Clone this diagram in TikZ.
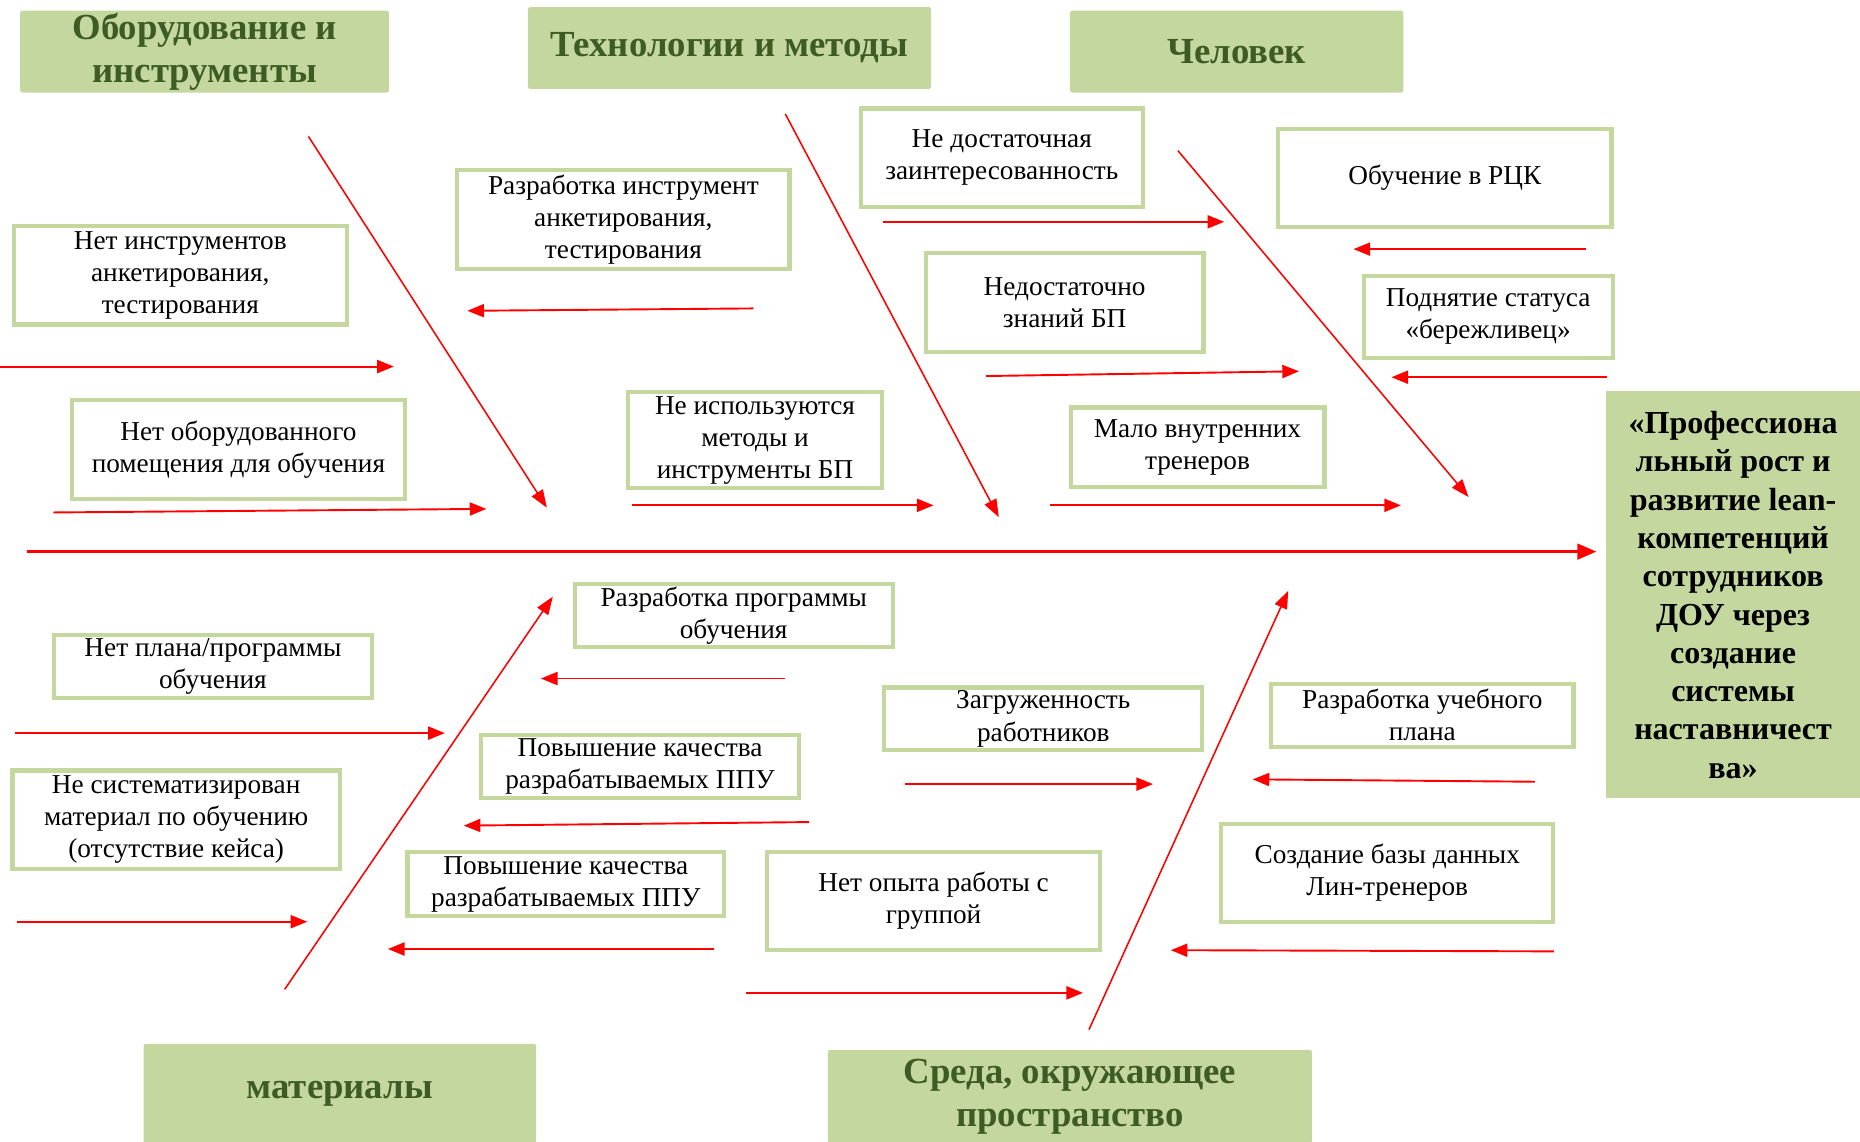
\documentclass[tikz,border=0pt]{standalone}
\usepackage{fontspec}
\setmainfont{Liberation Serif}
\usetikzlibrary{arrows.meta}
\definecolor{leaf}{RGB}{196,215,158}
\definecolor{moss}{RGB}{61,92,36}
\definecolor{alarm}{RGB}{255,0,0}
\tikzset{
  titlebox/.style={fill=leaf,rounded corners=2pt,inner sep=0pt,align=center,
    text=moss,font=\fontsize{31}{36}\selectfont\bfseries},
  cause/.style={draw=leaf,line width=3.5pt,fill=white,inner sep=0pt,align=center,
    font=\fontsize{23}{27}\selectfont},
  bone/.style={alarm,line width=1.3pt,-{Triangle[length=15pt,width=11pt]}},
  rib/.style={alarm,line width=1.6pt,-{Triangle[length=14pt,width=11pt]}},
  spine/.style={alarm,line width=2.6pt,-{Triangle[length=16pt,width=13pt]}}
}

\begin{document}
\begin{tikzpicture}[x=1pt,y=-1pt]
  \useasboundingbox (0,0) rectangle (1568,962);

  % category headers
  \node[titlebox,minimum width=311pt,minimum height=69pt] (eqp) at (172.5,43.5) {Оборудование и\\инструменты};
  \node[titlebox,minimum width=340pt,minimum height=69pt] (tech) at (615,40.5) {Технологии и методы};
  \node[titlebox,minimum width=281pt,minimum height=69pt] (man) at (1042.5,43.5) {Человек};
  \node[titlebox,minimum width=331pt,minimum height=84pt] (mat) at (286.5,922) {материалы};
  \node[titlebox,minimum width=408pt,minimum height=79pt] (env) at (902,924.5) {Среда, окружающее\\пространство};
  \node[titlebox,rounded corners=0pt,text=black,font=\fontsize{27}{32.3}\selectfont\bfseries,
    minimum width=214pt,minimum height=343pt] (goal) at (1461,501.5)
    {«Профессиона\\льный рост и\\развитие lean-\\компетенций\\сотрудников\\ДОУ через\\создание\\системы\\наставничест\\ва»};

  % causes, upper half
  \node[cause,minimum width=281pt,minimum height=83pt] (c1) at (152,232) {Нет инструментов\\анкетирования,\\тестирования};
  \node[cause,minimum width=280pt,minimum height=83pt] (c2) at (525.5,185) {Разработка инструмент\\анкетирования,\\тестирования};
  \node[cause,minimum width=281pt,minimum height=83pt] (c3) at (201,379) {Нет оборудованного\\помещения для обучения};
  \node[cause,minimum width=214pt,minimum height=81pt] (c4) at (636.5,371) {Не используются\\методы и\\инструменты БП};
  \node[cause,minimum width=238pt,minimum height=83pt] (c5) at (844.5,133) {Не достаточная\\заинтересованность};
  \node[cause,minimum width=234pt,minimum height=83pt] (c6) at (897.5,255) {Недостаточно\\знаний БП};
  \node[cause,minimum width=214pt,minimum height=67pt] (c7) at (1009.5,377) {Мало внутренних\\тренеров};
  \node[cause,minimum width=281pt,minimum height=83pt] (c8) at (1218,150) {Обучение в РЦК};
  \node[cause,minimum width=210pt,minimum height=69pt] (c9) at (1254.5,267) {Поднятие статуса\\«бережливец»};

  % causes, lower half
  \node[cause,minimum width=268pt,minimum height=53pt] (c10) at (179.5,562) {Нет плана/программы\\обучения};
  \node[cause,minimum width=276pt,minimum height=83pt] (c11) at (148.5,691) {Не систематизирован\\материал по обучению\\(отсутствие кейса)};
  \node[cause,minimum width=268pt,minimum height=53pt] (c12) at (618.5,519) {Разработка программы\\обучения};
  \node[cause,minimum width=268pt,minimum height=53pt] (c13) at (539.5,646) {Повышение качества\\разрабатываемых ППУ};
  \node[cause,minimum width=267pt,minimum height=54pt] (c14) at (477,745.5) {Повышение качества\\разрабатываемых ППУ};
  \node[cause,minimum width=268pt,minimum height=53pt] (c15) at (879.5,606) {Загруженность\\работников};
  \node[cause,minimum width=281pt,minimum height=82pt] (c16) at (787,759.5) {Нет опыта работы с\\группой};
  \node[cause,minimum width=255pt,minimum height=53pt] (c17) at (1199,603) {Разработка учебного\\плана};
  \node[cause,minimum width=280pt,minimum height=83pt] (c18) at (1169.5,736) {Создание базы данных\\Лин-тренеров};

  % spine
  \coordinate (tail) at (23,465);
  \draw[spine,shorten >=8pt] (tail) -- (tail -| goal.west);

  % bones
  \foreach \n/\xa/\ya/\xb/\yb in {1/260/115/461/428, 2/662/96/842/436, 3/993/127/1238/419,
      4/240/834/466/503, 5/918/868/1086/498}{
    \coordinate (bs\n) at (\xa,\ya);
    \coordinate (be\n) at (\xb,\yb);
    \draw[bone] (bs\n) -- (be\n);
  }

  % small arrows
  \foreach \n/\xa/\ya/\xb/\yb in {1/0/309/332/309, 2/635/260/394/262, 3/45/432/410/429,
      4/533/426/787/426, 5/744/187/1032/187, 6/831/317/1095/313, 7/885/426/1181/426,
      8/1337/210/1141/210, 9/1355/318/1173/318, 10/13/618/375/618, 11/14/777/259/777,
      12/662/572/456/572, 13/682/693/391/696, 14/602/800/327/800, 15/763/661/972/661,
      16/629/837/913/837, 17/1294/659/1056/657, 18/1310/802/987/801}{
    \coordinate (rs\n) at (\xa,\ya);
    \coordinate (re\n) at (\xb,\yb);
    \draw[rib] (rs\n) -- (re\n);
  }
\end{tikzpicture}
\end{document}
